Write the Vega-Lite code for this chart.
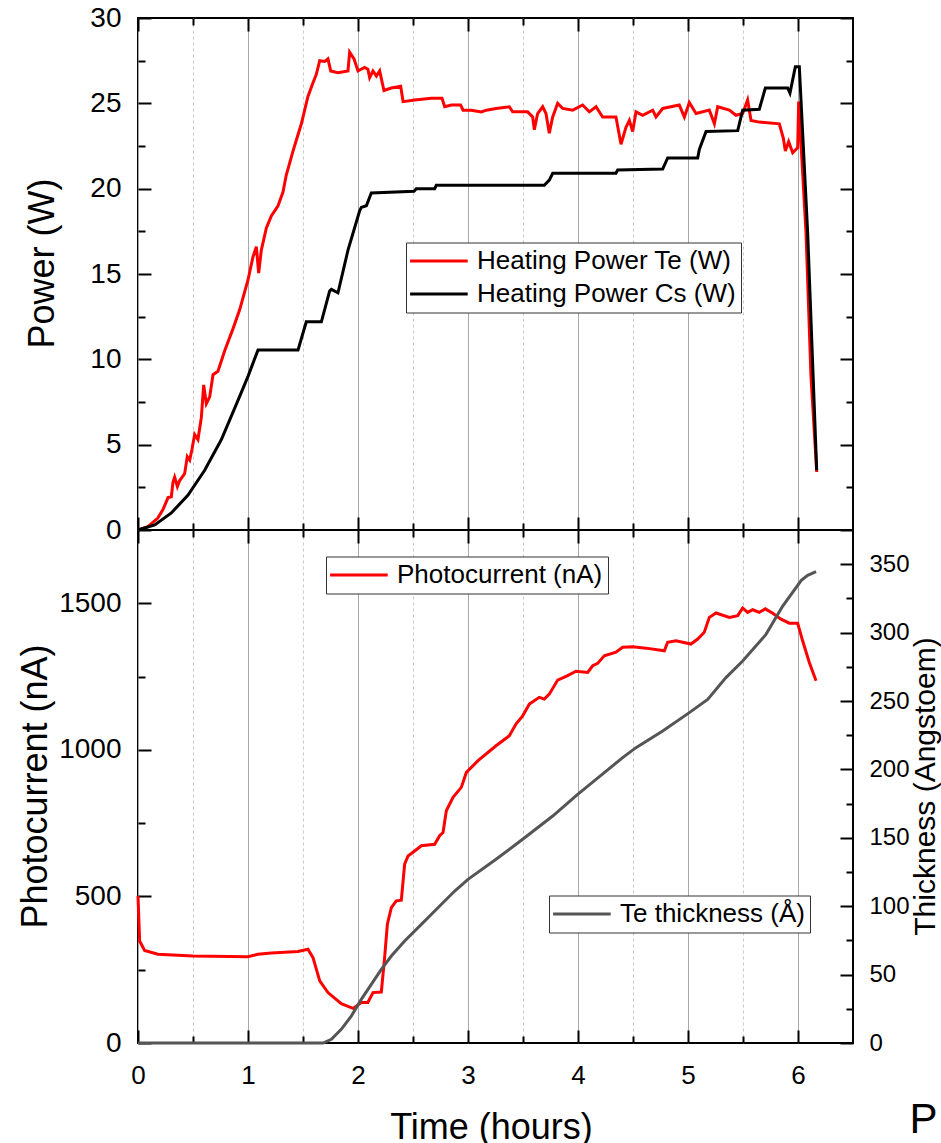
{
  "$schema": "https://vega.github.io/schema/vega-lite/v6.json",
  "background": "white",
  "padding": {"left": 15, "top": 3, "right": 0, "bottom": 0},
  "spacing": 0,
  "bounds": "flush",
  "config": {
    "view": {"stroke": "#000000", "strokeWidth": 2},
    "font": "Liberation Sans",
    "axis": {
      "domain": false, "tickColor": "#000000", "tickWidth": 2,
      "labelColor": "#000000", "titleColor": "#000000", "labelFont": "Liberation Sans", "titleFont": "Liberation Sans",
      "titleFontWeight": "normal", "labelFlush": false, "labelOverlap": false, "grid": false
    },
    "legend": {
      "labelFont": "Liberation Sans", "labelFontSize": 26, "labelColor": "#000000", "labelLimit": 600,
      "symbolType": "M-1.2,0L3.6,0", "symbolStrokeWidth": 3, "symbolSize": 576,
      "strokeColor": "#333333", "fillColor": "#ffffff", "padding": 5, "rowPadding": 6, "labelOffset": 39, "cornerRadius": 0
    }
  },
  "datasets": {
    "power": [
      {"t":0,"W":0,"s":"Heating Power Te (W)"},{"t":0.09,"W":0.2,"s":"Heating Power Te (W)"},{"t":0.18,"W":0.7,"s":"Heating Power Te (W)"},{"t":0.227,"W":1.2,"s":"Heating Power Te (W)"},{"t":0.273,"W":1.9,"s":"Heating Power Te (W)"},{"t":0.303,"W":1.95,"s":"Heating Power Te (W)"},{"t":0.318,"W":2.8,"s":"Heating Power Te (W)"},{"t":0.333,"W":3.1,"s":"Heating Power Te (W)"},{"t":0.358,"W":2.55,"s":"Heating Power Te (W)"},{"t":0.379,"W":2.9,"s":"Heating Power Te (W)"},{"t":0.424,"W":3.3,"s":"Heating Power Te (W)"},{"t":0.448,"W":4.3,"s":"Heating Power Te (W)"},{"t":0.47,"W":4.1,"s":"Heating Power Te (W)"},{"t":0.49,"W":4.7,"s":"Heating Power Te (W)"},{"t":0.515,"W":5.6,"s":"Heating Power Te (W)"},{"t":0.545,"W":5.3,"s":"Heating Power Te (W)"},{"t":0.576,"W":6.6,"s":"Heating Power Te (W)"},{"t":0.597,"W":8.5,"s":"Heating Power Te (W)"},{"t":0.621,"W":7.4,"s":"Heating Power Te (W)"},{"t":0.652,"W":7.8,"s":"Heating Power Te (W)"},{"t":0.682,"W":9.1,"s":"Heating Power Te (W)"},{"t":0.727,"W":9.3,"s":"Heating Power Te (W)"},{"t":0.788,"W":10.5,"s":"Heating Power Te (W)"},{"t":0.864,"W":11.8,"s":"Heating Power Te (W)"},{"t":0.924,"W":12.9,"s":"Heating Power Te (W)"},{"t":1.0,"W":14.65,"s":"Heating Power Te (W)"},{"t":1.045,"W":16.0,"s":"Heating Power Te (W)"},{"t":1.076,"W":16.6,"s":"Heating Power Te (W)"},{"t":1.097,"W":15.05,"s":"Heating Power Te (W)"},{"t":1.121,"W":16.4,"s":"Heating Power Te (W)"},{"t":1.167,"W":17.7,"s":"Heating Power Te (W)"},{"t":1.212,"W":18.4,"s":"Heating Power Te (W)"},{"t":1.273,"W":19.0,"s":"Heating Power Te (W)"},{"t":1.318,"W":19.8,"s":"Heating Power Te (W)"},{"t":1.348,"W":20.8,"s":"Heating Power Te (W)"},{"t":1.409,"W":22.2,"s":"Heating Power Te (W)"},{"t":1.485,"W":23.8,"s":"Heating Power Te (W)"},{"t":1.545,"W":25.4,"s":"Heating Power Te (W)"},{"t":1.591,"W":26.2,"s":"Heating Power Te (W)"},{"t":1.621,"W":26.7,"s":"Heating Power Te (W)"},{"t":1.652,"W":27.5,"s":"Heating Power Te (W)"},{"t":1.697,"W":27.45,"s":"Heating Power Te (W)"},{"t":1.727,"W":27.6,"s":"Heating Power Te (W)"},{"t":1.752,"W":26.9,"s":"Heating Power Te (W)"},{"t":1.818,"W":26.8,"s":"Heating Power Te (W)"},{"t":1.909,"W":26.9,"s":"Heating Power Te (W)"},{"t":1.924,"W":28.0,"s":"Heating Power Te (W)"},{"t":1.964,"W":27.6,"s":"Heating Power Te (W)"},{"t":2.0,"W":26.9,"s":"Heating Power Te (W)"},{"t":2.06,"W":27.1,"s":"Heating Power Te (W)"},{"t":2.09,"W":27.0,"s":"Heating Power Te (W)"},{"t":2.106,"W":26.5,"s":"Heating Power Te (W)"},{"t":2.136,"W":26.9,"s":"Heating Power Te (W)"},{"t":2.167,"W":26.6,"s":"Heating Power Te (W)"},{"t":2.197,"W":26.9,"s":"Heating Power Te (W)"},{"t":2.236,"W":25.75,"s":"Heating Power Te (W)"},{"t":2.303,"W":25.9,"s":"Heating Power Te (W)"},{"t":2.388,"W":26.0,"s":"Heating Power Te (W)"},{"t":2.41,"W":25.1,"s":"Heating Power Te (W)"},{"t":2.515,"W":25.2,"s":"Heating Power Te (W)"},{"t":2.667,"W":25.3,"s":"Heating Power Te (W)"},{"t":2.764,"W":25.3,"s":"Heating Power Te (W)"},{"t":2.788,"W":24.8,"s":"Heating Power Te (W)"},{"t":2.848,"W":24.9,"s":"Heating Power Te (W)"},{"t":2.933,"W":24.9,"s":"Heating Power Te (W)"},{"t":2.955,"W":24.6,"s":"Heating Power Te (W)"},{"t":3.03,"W":24.6,"s":"Heating Power Te (W)"},{"t":3.121,"W":24.5,"s":"Heating Power Te (W)"},{"t":3.167,"W":24.6,"s":"Heating Power Te (W)"},{"t":3.255,"W":24.7,"s":"Heating Power Te (W)"},{"t":3.376,"W":24.8,"s":"Heating Power Te (W)"},{"t":3.406,"W":24.5,"s":"Heating Power Te (W)"},{"t":3.542,"W":24.5,"s":"Heating Power Te (W)"},{"t":3.588,"W":24.2,"s":"Heating Power Te (W)"},{"t":3.603,"W":23.45,"s":"Heating Power Te (W)"},{"t":3.633,"W":24.4,"s":"Heating Power Te (W)"},{"t":3.679,"W":24.8,"s":"Heating Power Te (W)"},{"t":3.709,"W":24.4,"s":"Heating Power Te (W)"},{"t":3.739,"W":23.25,"s":"Heating Power Te (W)"},{"t":3.77,"W":24.2,"s":"Heating Power Te (W)"},{"t":3.815,"W":25.0,"s":"Heating Power Te (W)"},{"t":3.861,"W":24.7,"s":"Heating Power Te (W)"},{"t":3.952,"W":24.6,"s":"Heating Power Te (W)"},{"t":4.042,"W":24.9,"s":"Heating Power Te (W)"},{"t":4.103,"W":24.5,"s":"Heating Power Te (W)"},{"t":4.164,"W":24.8,"s":"Heating Power Te (W)"},{"t":4.224,"W":24.2,"s":"Heating Power Te (W)"},{"t":4.345,"W":24.2,"s":"Heating Power Te (W)"},{"t":4.391,"W":22.6,"s":"Heating Power Te (W)"},{"t":4.436,"W":23.6,"s":"Heating Power Te (W)"},{"t":4.467,"W":24.0,"s":"Heating Power Te (W)"},{"t":4.497,"W":23.35,"s":"Heating Power Te (W)"},{"t":4.527,"W":24.5,"s":"Heating Power Te (W)"},{"t":4.588,"W":24.3,"s":"Heating Power Te (W)"},{"t":4.679,"W":24.6,"s":"Heating Power Te (W)"},{"t":4.709,"W":24.2,"s":"Heating Power Te (W)"},{"t":4.77,"W":24.7,"s":"Heating Power Te (W)"},{"t":4.921,"W":24.9,"s":"Heating Power Te (W)"},{"t":4.967,"W":24.2,"s":"Heating Power Te (W)"},{"t":5.012,"W":25.05,"s":"Heating Power Te (W)"},{"t":5.073,"W":24.4,"s":"Heating Power Te (W)"},{"t":5.194,"W":24.6,"s":"Heating Power Te (W)"},{"t":5.24,"W":23.8,"s":"Heating Power Te (W)"},{"t":5.27,"W":24.8,"s":"Heating Power Te (W)"},{"t":5.376,"W":24.6,"s":"Heating Power Te (W)"},{"t":5.436,"W":24.3,"s":"Heating Power Te (W)"},{"t":5.497,"W":24.4,"s":"Heating Power Te (W)"},{"t":5.542,"W":25.2,"s":"Heating Power Te (W)"},{"t":5.573,"W":24.0,"s":"Heating Power Te (W)"},{"t":5.648,"W":23.9,"s":"Heating Power Te (W)"},{"t":5.83,"W":23.8,"s":"Heating Power Te (W)"},{"t":5.867,"W":22.95,"s":"Heating Power Te (W)"},{"t":5.885,"W":22.2,"s":"Heating Power Te (W)"},{"t":5.915,"W":22.75,"s":"Heating Power Te (W)"},{"t":5.952,"W":22.1,"s":"Heating Power Te (W)"},{"t":5.997,"W":22.4,"s":"Heating Power Te (W)"},{"t":6.006,"W":25.1,"s":"Heating Power Te (W)"},{"t":6.073,"W":17.4,"s":"Heating Power Te (W)"},{"t":6.118,"W":9.0,"s":"Heating Power Te (W)"},{"t":6.17,"W":3.4,"s":"Heating Power Te (W)"},
      {"t":0,"W":0,"s":"Heating Power Cs (W)"},{"t":0.152,"W":0.3,"s":"Heating Power Cs (W)"},{"t":0.303,"W":1.0,"s":"Heating Power Cs (W)"},{"t":0.455,"W":2.05,"s":"Heating Power Cs (W)"},{"t":0.606,"W":3.5,"s":"Heating Power Cs (W)"},{"t":0.758,"W":5.3,"s":"Heating Power Cs (W)"},{"t":0.909,"W":7.6,"s":"Heating Power Cs (W)"},{"t":1.0,"W":9.0,"s":"Heating Power Cs (W)"},{"t":1.091,"W":10.55,"s":"Heating Power Cs (W)"},{"t":1.455,"W":10.55,"s":"Heating Power Cs (W)"},{"t":1.53,"W":12.2,"s":"Heating Power Cs (W)"},{"t":1.667,"W":12.2,"s":"Heating Power Cs (W)"},{"t":1.742,"W":14.0,"s":"Heating Power Cs (W)"},{"t":1.758,"W":14.1,"s":"Heating Power Cs (W)"},{"t":1.818,"W":13.9,"s":"Heating Power Cs (W)"},{"t":1.909,"W":16.4,"s":"Heating Power Cs (W)"},{"t":2.015,"W":18.7,"s":"Heating Power Cs (W)"},{"t":2.03,"W":18.9,"s":"Heating Power Cs (W)"},{"t":2.076,"W":19.0,"s":"Heating Power Cs (W)"},{"t":2.121,"W":19.75,"s":"Heating Power Cs (W)"},{"t":2.509,"W":19.85,"s":"Heating Power Cs (W)"},{"t":2.53,"W":20.0,"s":"Heating Power Cs (W)"},{"t":2.697,"W":20.0,"s":"Heating Power Cs (W)"},{"t":2.712,"W":20.2,"s":"Heating Power Cs (W)"},{"t":3.694,"W":20.2,"s":"Heating Power Cs (W)"},{"t":3.739,"W":20.5,"s":"Heating Power Cs (W)"},{"t":3.77,"W":20.9,"s":"Heating Power Cs (W)"},{"t":4.345,"W":20.9,"s":"Heating Power Cs (W)"},{"t":4.361,"W":21.1,"s":"Heating Power Cs (W)"},{"t":4.77,"W":21.15,"s":"Heating Power Cs (W)"},{"t":4.815,"W":21.8,"s":"Heating Power Cs (W)"},{"t":5.088,"W":21.8,"s":"Heating Power Cs (W)"},{"t":5.103,"W":22.3,"s":"Heating Power Cs (W)"},{"t":5.164,"W":23.35,"s":"Heating Power Cs (W)"},{"t":5.452,"W":23.4,"s":"Heating Power Cs (W)"},{"t":5.497,"W":24.6,"s":"Heating Power Cs (W)"},{"t":5.648,"W":24.65,"s":"Heating Power Cs (W)"},{"t":5.703,"W":25.9,"s":"Heating Power Cs (W)"},{"t":5.906,"W":25.9,"s":"Heating Power Cs (W)"},{"t":5.927,"W":25.6,"s":"Heating Power Cs (W)"},{"t":5.976,"W":27.15,"s":"Heating Power Cs (W)"},{"t":6.012,"W":27.15,"s":"Heating Power Cs (W)"},{"t":6.088,"W":17.4,"s":"Heating Power Cs (W)"},{"t":6.17,"W":3.5,"s":"Heating Power Cs (W)"}
    ],
    "photo": [
      {"t":0,"nA":502},{"t":0.015,"nA":348},{"t":0.06,"nA":316},{"t":0.18,"nA":303},{"t":0.5,"nA":297},{"t":1.0,"nA":294},{"t":1.09,"nA":303},{"t":1.212,"nA":307},{"t":1.455,"nA":312},{"t":1.545,"nA":320},{"t":1.591,"nA":291},{"t":1.652,"nA":212},{"t":1.727,"nA":172},{"t":1.848,"nA":134},{"t":1.955,"nA":118},{"t":2.03,"nA":138},{"t":2.09,"nA":138},{"t":2.136,"nA":172},{"t":2.212,"nA":174},{"t":2.242,"nA":291},{"t":2.267,"nA":405},{"t":2.303,"nA":462},{"t":2.348,"nA":485},{"t":2.394,"nA":487},{"t":2.424,"nA":610},{"t":2.455,"nA":638},{"t":2.515,"nA":655},{"t":2.576,"nA":673},{"t":2.697,"nA":678},{"t":2.742,"nA":707},{"t":2.773,"nA":718},{"t":2.803,"nA":792},{"t":2.864,"nA":838},{"t":2.939,"nA":872},{"t":2.985,"nA":923},{"t":3.091,"nA":963},{"t":3.255,"nA":1014},{"t":3.376,"nA":1048},{"t":3.436,"nA":1088},{"t":3.497,"nA":1116},{"t":3.558,"nA":1156},{"t":3.648,"nA":1179},{"t":3.694,"nA":1173},{"t":3.739,"nA":1190},{"t":3.815,"nA":1238},{"t":3.906,"nA":1253},{"t":3.982,"nA":1268},{"t":4.088,"nA":1264},{"t":4.134,"nA":1287},{"t":4.179,"nA":1295},{"t":4.239,"nA":1321},{"t":4.345,"nA":1333},{"t":4.406,"nA":1350},{"t":4.497,"nA":1352},{"t":4.618,"nA":1347},{"t":4.785,"nA":1338},{"t":4.815,"nA":1367},{"t":4.891,"nA":1372},{"t":5.027,"nA":1361},{"t":5.088,"nA":1378},{"t":5.148,"nA":1401},{"t":5.194,"nA":1452},{"t":5.255,"nA":1467},{"t":5.376,"nA":1452},{"t":5.452,"nA":1458},{"t":5.497,"nA":1484},{"t":5.542,"nA":1469},{"t":5.588,"nA":1478},{"t":5.648,"nA":1469},{"t":5.703,"nA":1481},{"t":5.77,"nA":1466},{"t":5.845,"nA":1446},{"t":5.921,"nA":1432},{"t":5.997,"nA":1432},{"t":6.042,"nA":1372},{"t":6.103,"nA":1298},{"t":6.164,"nA":1236}
    ],
    "thick": [
      {"t":0,"A":0},{"t":1.682,"A":0},{"t":1.758,"A":2.7},{"t":1.848,"A":10},{"t":1.939,"A":19.7},{"t":2.03,"A":31.9},{"t":2.121,"A":42.9},{"t":2.212,"A":53.8},{"t":2.303,"A":63.6},{"t":2.424,"A":74.6},{"t":2.576,"A":86.7},{"t":2.727,"A":98.9},{"t":2.879,"A":111.1},{"t":3.0,"A":119.6},{"t":3.255,"A":134.3},{"t":3.497,"A":148.9},{"t":3.77,"A":165.9},{"t":3.997,"A":181.8},{"t":4.164,"A":192.7},{"t":4.406,"A":208.6},{"t":4.527,"A":215.9},{"t":4.77,"A":228.1},{"t":5.012,"A":241.5},{"t":5.179,"A":251.2},{"t":5.345,"A":267.1},{"t":5.497,"A":279.2},{"t":5.709,"A":298.7},{"t":5.861,"A":319.4},{"t":6.03,"A":338.2},{"t":6.088,"A":341.9},{"t":6.164,"A":344.5}
    ]
  },
  "resolve": {"scale": {"stroke": "independent"}, "legend": {"stroke": "independent"}},
  "title": {"text": "P", "orient": "bottom", "anchor": "end", "frame": "bounds", "fontSize": 42, "fontWeight": "normal", "font": "Liberation Sans", "color": "#000000", "offset": -46, "dx": -4},
  "vconcat": [
    {
      "width": 715,
      "height": 512,
      "data": {"name": "power"},
      "layer": [
        {
          "mark": {"type": "line", "strokeWidth": 3},
          "encoding": {
            "x": {"field": "t", "type": "quantitative", "scale": {"domain": [0, 6.5], "nice": false, "zero": false},
              "axis": {"orient": "bottom", "values": [0,1,2,3,4,5,6], "labels": false, "title": null, "offset": -13, "tickSize": 13,
                "grid": true, "gridColor": "#a8a8a8", "gridWidth": 1}},
            "y": {"field": "W", "type": "quantitative", "scale": {"domain": [0, 30], "nice": false},
              "axis": {"orient": "left", "values": [0,5,10,15,20,25,30], "format": "d", "labelFontSize": 28, "labelPadding": 17, "offset": -13, "tickSize": 13,
                "title": "Power (W)", "titleFontSize": 36, "titleAngle": -90, "titleX": -97.5, "titleY": 245, "titleAlign": "center", "titleBaseline": "alphabetic"}},
            "stroke": {"field": "s", "type": "nominal",
              "scale": {"domain": ["Heating Power Te (W)", "Heating Power Cs (W)"], "range": ["#ff0000", "#000000"]},
              "legend": {"orient": "none", "legendX": 268, "legendY": 224.5, "title": null}}
          }
        },
        {
          "mark": {"type": "line", "strokeOpacity": 0},
          "encoding": {
            "x": {"field": "t", "type": "quantitative",
              "axis": {"orient": "bottom", "values": [0.5,1.5,2.5,3.5,4.5,5.5], "labels": false, "title": null, "offset": -7, "tickSize": 7,
                "grid": true, "gridColor": "#c8c8c8", "gridDash": [3, 3], "gridWidth": 1}},
            "y": {"field": "W", "type": "quantitative",
              "axis": {"orient": "left", "values": [2.5,7.5,12.5,17.5,22.5,27.5], "labels": false, "title": null, "offset": -7, "tickSize": 7}},
            "detail": {"field": "s"}
          }
        },
        {
          "mark": {"type": "line", "strokeOpacity": 0},
          "encoding": {
            "x": {"field": "t", "type": "quantitative",
              "axis": {"orient": "top", "values": [0,1,2,3,4,5,6], "labels": false, "title": null, "offset": -13, "tickSize": 13}},
            "y": {"field": "W", "type": "quantitative",
              "axis": {"orient": "right", "values": [0,5,10,15,20,25,30], "labels": false, "title": null, "offset": -13, "tickSize": 13}},
            "detail": {"field": "s"}
          }
        },
        {
          "mark": {"type": "line", "strokeOpacity": 0},
          "encoding": {
            "x": {"field": "t", "type": "quantitative",
              "axis": {"orient": "top", "values": [0.5,1.5,2.5,3.5,4.5,5.5], "labels": false, "title": null, "offset": -7, "tickSize": 7}},
            "y": {"field": "W", "type": "quantitative",
              "axis": {"orient": "right", "values": [2.5,7.5,12.5,17.5,22.5,27.5], "labels": false, "title": null, "offset": -7, "tickSize": 7}},
            "detail": {"field": "s"}
          }
        }
      ],
      "resolve": {"axis": {"x": "independent", "y": "independent"}}
    },
    {
      "width": 715,
      "height": 513,
      "layer": [
        {
          "data": {"name": "photo"},
          "mark": {"type": "line", "strokeWidth": 3},
          "encoding": {
            "x": {"field": "t", "type": "quantitative", "scale": {"domain": [0, 6.5], "nice": false, "zero": false},
              "axis": {"orient": "bottom", "values": [0,1,2,3,4,5,6], "format": "d", "labelFontSize": 26, "labelPadding": 19, "offset": -13, "tickSize": 13,
                "title": "Time (hours)", "titleFontSize": 36, "titleX": 353, "titleY": 108, "titleAlign": "center", "titleBaseline": "alphabetic",
                "grid": true, "gridColor": "#a8a8a8", "gridWidth": 1}},
            "y": {"field": "nA", "type": "quantitative", "scale": {"domain": [0, 1750], "nice": false},
              "axis": {"orient": "left", "values": [0,500,1000,1500], "format": "d", "labelFontSize": 28, "labelPadding": 17, "offset": -13, "tickSize": 13,
                "title": "Photocurrent (nA)", "titleFontSize": 36, "titleAngle": -90, "titleX": -105, "titleY": 256, "titleAlign": "center", "titleBaseline": "alphabetic"}},
            "stroke": {"datum": "Photocurrent (nA)", "type": "nominal", "scale": {"range": ["#ff0000"]},
              "legend": {"orient": "none", "legendX": 188, "legendY": 26.5, "title": null}}
          }
        },
        {
          "data": {"name": "photo"},
          "mark": {"type": "line", "strokeOpacity": 0},
          "encoding": {
            "x": {"field": "t", "type": "quantitative",
              "axis": {"orient": "bottom", "values": [0.5,1.5,2.5,3.5,4.5,5.5], "labels": false, "title": null, "offset": -7, "tickSize": 7,
                "grid": true, "gridColor": "#c8c8c8", "gridDash": [3, 3], "gridWidth": 1}},
            "y": {"field": "nA", "type": "quantitative", "scale": {"domain": [0, 1750], "nice": false},
              "axis": {"orient": "left", "values": [250,750,1250], "labels": false, "title": null, "offset": -7, "tickSize": 7}}
          }
        },
        {
          "data": {"name": "thick"},
          "mark": {"type": "line", "strokeWidth": 3},
          "encoding": {
            "x": {"field": "t", "type": "quantitative",
              "axis": {"orient": "top", "values": [0,1,2,3,4,5,6], "labels": false, "title": null, "offset": -13, "tickSize": 13}},
            "y": {"field": "A", "type": "quantitative", "scale": {"domain": [0, 375], "nice": false},
              "axis": {"orient": "right", "values": [0,50,100,150,200,250,300,350], "format": "d", "labelFontSize": 24, "labelPadding": 16, "offset": -13, "tickSize": 13,
                "title": "Thickness (Angstoem)", "titleFontSize": 30, "titleAngle": -90, "titleX": 94.5, "titleY": 256, "titleAlign": "center", "titleBaseline": "alphabetic"}},
            "stroke": {"datum": "Te thickness (Å)", "type": "nominal", "scale": {"range": ["#555555"]},
              "legend": {"orient": "none", "legendX": 411, "legendY": 365.5, "title": null}}
          }
        },
        {
          "data": {"name": "thick"},
          "mark": {"type": "line", "strokeOpacity": 0},
          "encoding": {
            "x": {"field": "t", "type": "quantitative",
              "axis": {"orient": "top", "values": [0.5,1.5,2.5,3.5,4.5,5.5], "labels": false, "title": null, "offset": -7, "tickSize": 7}},
            "y": {"field": "A", "type": "quantitative", "scale": {"domain": [0, 375], "nice": false},
              "axis": {"orient": "right", "values": [25,75,125,175,225,275,325], "labels": false, "title": null, "offset": -7, "tickSize": 7}}
          }
        }
      ],
      "resolve": {"scale": {"y": "independent", "stroke": "independent"}, "axis": {"x": "independent", "y": "independent"}, "legend": {"stroke": "independent"}}
    }
  ]
}
